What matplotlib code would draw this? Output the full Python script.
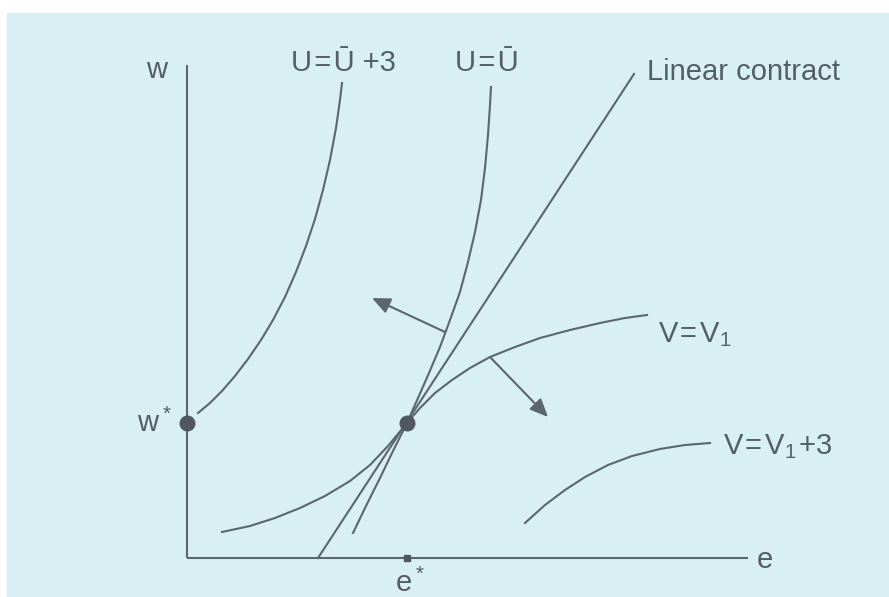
import numpy as np
import matplotlib
matplotlib.use("Agg")
import matplotlib.pyplot as plt
from matplotlib.patches import Rectangle

plt.rcParams['font.family'] = ['Liberation Sans', 'DejaVu Sans']
plt.rcParams['mathtext.fontset'] = 'custom'
plt.rcParams['mathtext.rm'] = 'Liberation Sans'

# effort e on the horizontal axis, wage w on the vertical axis
e_star = 2.20
w_star = 1.35

# agent indifference curves
u_high_e = [0.11, 0.23, 0.35, 0.48, 0.61, 0.74, 0.86, 0.98, 1.09, 1.19,
            1.28, 1.36, 1.43, 1.49, 1.53, 1.55]
u_high_w = [1.45, 1.55, 1.67, 1.82, 1.99, 2.18, 2.38, 2.61, 2.86, 3.12,
            3.39, 3.68, 3.98, 4.30, 4.58, 4.75]
u_base_e = [1.66, 1.79, 1.93, 2.06, 2.20, 2.31, 2.42, 2.53, 2.63, 2.73,
            2.81, 2.88, 2.94, 2.98, 3.01, 3.03, 3.04]
u_base_w = [0.25, 0.52, 0.80, 1.07, 1.35, 1.60, 1.85, 2.11, 2.38, 2.66,
            2.96, 3.26, 3.58, 3.90, 4.23, 4.53, 4.71]

# principal iso-profit curves
v_base_e = [0.35, 0.63, 0.88, 1.13, 1.38, 1.63, 1.83, 2.01, 2.20, 2.33,
            2.48, 2.65, 2.83, 3.03, 3.28, 3.53, 3.83, 4.13, 4.38, 4.60]
v_base_w = [0.26, 0.32, 0.40, 0.50, 0.62, 0.77, 0.93, 1.12, 1.35, 1.50,
            1.65, 1.78, 1.90, 2.01, 2.11, 2.20, 2.28, 2.35, 2.40, 2.43]
v_high_e = [3.38, 3.58, 3.78, 3.98, 4.21, 4.45, 4.73, 4.98, 5.23]
v_high_w = [0.35, 0.53, 0.68, 0.81, 0.93, 1.02, 1.09, 1.13, 1.15]

# linear contract line
lin_e = [1.31, 4.47]
lin_w = [0.00, 4.84]

# direction arrows (tail, head)
arrows = [((2.58, 2.26), (1.85, 2.60)),
          ((3.03, 2.01), (3.61, 1.41))]

axis_e_max = 5.61
axis_w_max = 4.93

ink = '#5b666e'
txt = '#535e66'
paper = '#d8eff3'

fig = plt.figure(figsize=(8.89, 5.97), dpi=100, facecolor='white')
ax = fig.add_axes([0, 0, 1, 1])
ax.set_xlim(-1.87, 7.02)
ax.set_ylim(-0.39, 5.58)
ax.axis('off')
# page area (thin white margin at top and left)
ax.add_patch(Rectangle((7 / 889, 0), 1, (597 - 13) / 597,
                       transform=fig.transFigure, color=paper, zorder=-10))

lw = 1.5
# axes
ax.plot([0, 0], [0, axis_w_max], color=ink, lw=lw, solid_capstyle='butt')
ax.plot([0, axis_e_max], [0, 0], color=ink, lw=lw, solid_capstyle='butt')

for xs, ys in [(u_high_e, u_high_w), (u_base_e, u_base_w),
               (v_base_e, v_base_w), (v_high_e, v_high_w), (lin_e, lin_w)]:
    ax.plot(xs, ys, color=ink, lw=lw, solid_joinstyle='round')

for tail, head in arrows:
    ax.annotate('', xy=head, xytext=tail,
                arrowprops=dict(arrowstyle='-|>,head_length=0.5,head_width=0.22',
                                color=ink, lw=lw, mutation_scale=22,
                                shrinkA=0, shrinkB=0))

ax.plot([0, e_star], [w_star, w_star], 'o', color='#4f5860', ms=10.5, zorder=5)
ax.plot([e_star], [0], 's', color='#4f5860', ms=5, zorder=5)

hs = '\u200a'  # hair space around the equals signs
fs = 21
ax.text(-0.30, 4.88, 'w', fontsize=fs, color=txt, ha='center', va='center')
ax.text(5.70, -0.02, 'e', fontsize=fs, color=txt, ha='left', va='center')
ax.text(-0.15, w_star, r'w$^*$', fontsize=fs, color=txt,
        ha='right', va='center')
ax.text(e_star + 0.03, -0.25, r'e$^*$', fontsize=fs, color=txt,
        ha='center', va='center')
ax.text(1.56, 4.95, f'U{hs}={hs}\u016a +3', fontsize=fs, color=txt,
        ha='center', va='center')
ax.text(3.00, 4.95, f'U{hs}={hs}\u016a', fontsize=fs, color=txt,
        ha='center', va='center')
ax.text(4.60, 4.86, 'Linear contract', fontsize=fs, color=txt,
        ha='left', va='center')
ax.text(4.71, 2.23, f'V{hs}={hs}V$_1$', fontsize=fs, color=txt,
        ha='left', va='center')
ax.text(5.36, 1.11, f'V{hs}={hs}V$_1${hs}+3', fontsize=fs, color=txt,
        ha='left', va='center')

fig.savefig('out.png', dpi=100, facecolor='white')
